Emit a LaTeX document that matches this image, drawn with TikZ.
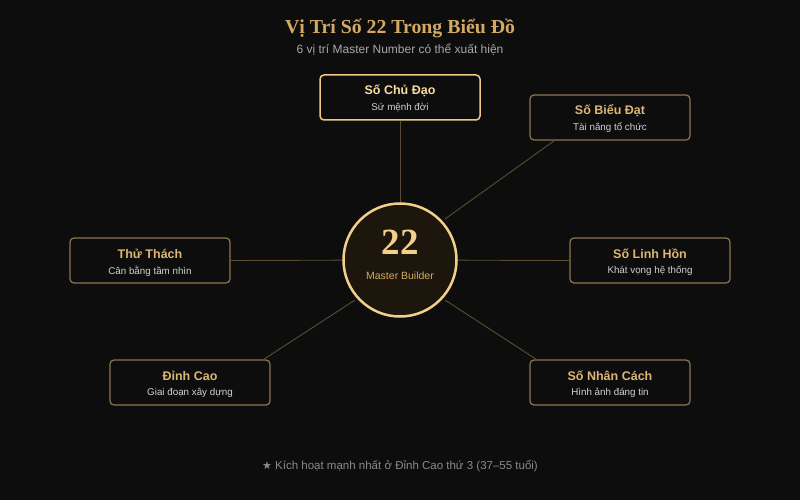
\documentclass[tikz,border=0pt]{standalone}
\usepackage{fontspec}
\setmainfont{Liberation Sans}
\newfontfamily\serifb{Liberation Serif}
\newfontfamily\dejavu{DejaVu Sans}
\usetikzlibrary{calc}
\definecolor{bg}{HTML}{0D0D0D}
\definecolor{titlegold}{HTML}{D4AA63}
\definecolor{subgrey}{HTML}{A8A8A8}
\definecolor{boxline}{HTML}{8C7650}
\definecolor{boxlinehi}{HTML}{EBCB82}
\definecolor{boxtitle}{HTML}{DDB673}
\definecolor{boxtitlehi}{HTML}{F7DC9C}
\definecolor{boxsub}{HTML}{D2D2D2}
\definecolor{conn}{HTML}{5A4C32}
\definecolor{circfill}{HTML}{1C160C}
\definecolor{circline}{HTML}{F2D08A}
\definecolor{mbtext}{HTML}{D6AA62}
\definecolor{footgrey}{HTML}{8A8A8A}
\begin{document}
\begin{tikzpicture}[x=1pt,y=-1pt,
  posbox/.style={draw=boxline, line width=1.2pt, rounded corners=4pt, fill=bg,
    minimum width=160pt, minimum height=45pt, inner sep=0pt},
  posboxhi/.style={posbox, draw=boxlinehi, line width=1.5pt},
  btitle/.style={text=boxtitle, font=\bfseries\fontsize{12.5}{14}\selectfont, inner sep=0pt},
  btitlehi/.style={btitle, text=boxtitlehi},
  bsub/.style={text=boxsub, font=\fontsize{9.8}{11}\selectfont, inner sep=0pt},
  connline/.style={draw=conn, line width=0.9pt}]
\fill[bg] (0,0) rectangle (800,500);
\useasboundingbox (0,0) rectangle (800,500);

% title
\node[text=titlegold, font=\serifb\bfseries\fontsize{19.8}{22}\selectfont, inner sep=0pt] (title) at (400,28) {Vị Trí Số 22 Trong Biểu Đồ};
\node[text=subgrey, font=\fontsize{12}{14}\selectfont, inner sep=0pt] (subtitle) at (400,50) {6 vị trí Master Number có thể xuất hiện};

% center placeholder for lines
\coordinate (cc) at (400,260);

% boxes
\node[posboxhi] (cd) at (400,97.5) {};
\node[posbox] (bd) at (610,117.5) {};
\node[posbox] (lh) at (650,260.5) {};
\node[posbox] (tt) at (150,260.5) {};
\node[posbox] (dc) at (190,382.5) {};
\node[posbox] (nc) at (610,382.5) {};

% connector start points near circle
\coordinate (sur) at ($(cc)+(45,-41)$);
\coordinate (sll) at ($(cc)+(-45,40)$);
\coordinate (slr) at ($(cc)+(45,40)$);

% connectors
\draw[connline] (cd.south) -- (cc);
\draw[connline] (tt.east) -- (cc);
\draw[connline] (lh.west) -- (cc);
\draw[connline] (sur) -- ([xshift=25pt]bd.south west);
\draw[connline] (sll) -- ([xshift=-7pt]dc.north east);
\draw[connline] (slr) -- ([xshift=7pt]nc.north west);

% circle
\node[circle, draw=circline, line width=2.5pt, fill=circfill, minimum size=113pt, inner sep=0pt] (c) at (cc) {};
\node[text=circline, font=\serifb\bfseries\fontsize{37}{40}\selectfont, inner sep=0pt] (num) at (400,242) {22};
\node[text=mbtext, font=\fontsize{10.5}{12}\selectfont, inner sep=0pt] (mb) at (400,276) {Master Builder};

% box texts
\node[btitlehi] (cdt) at ($(cd.center)+(0,-6.5)$) {Số Chủ Đạo};
\node[bsub] (cds) at ($(cd.center)+(0,10.5)$) {Sứ mệnh đời};
\node[btitle] (bdt) at ($(bd.center)+(0,-6.5)$) {Số Biểu Đạt};
\node[bsub] (bds) at ($(bd.center)+(0,10.5)$) {Tài năng tổ chức};
\node[btitle] (lht) at ($(lh.center)+(0,-6.5)$) {Số Linh Hồn};
\node[bsub] (lhs) at ($(lh.center)+(0,10.5)$) {Khát vọng hệ thống};
\node[btitle] (ttt) at ($(tt.center)+(0,-6.5)$) {Thử Thách};
\node[bsub] (tts) at ($(tt.center)+(0,10.5)$) {Cân bằng tầm nhìn};
\node[btitle] (dct) at ($(dc.center)+(0,-6.5)$) {Đỉnh Cao};
\node[bsub] (dcs) at ($(dc.center)+(0,10.5)$) {Giai đoạn xây dựng};
\node[btitle] (nct) at ($(nc.center)+(0,-6.5)$) {Số Nhân Cách};
\node[bsub] (ncs) at ($(nc.center)+(0,10.5)$) {Hình ảnh đáng tin};

% footer
\node[text=footgrey, font=\fontsize{11.5}{13}\selectfont, inner sep=0pt] (foot) at (400,466) {{\dejavu\fontsize{11}{13}\selectfont ★} Kích hoạt mạnh nhất ở Đỉnh Cao thứ 3 (37–55 tuổi)};
\end{tikzpicture}
\end{document}
